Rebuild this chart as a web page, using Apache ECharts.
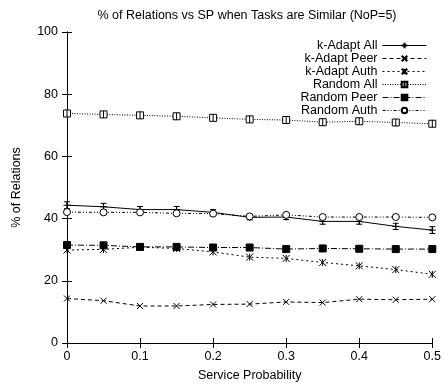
<!DOCTYPE html>
<html><head><meta charset="utf-8">
<script src="https://cdn.jsdelivr.net/npm/echarts@6/dist/echarts.min.js"></script>
<style>html,body{margin:0;padding:0;background:#fff}#c{width:444px;height:387px}</style>
</head><body><div id="c"></div>
<script>
const xValues = [0, 0.05, 0.1, 0.15, 0.2, 0.25, 0.3, 0.35, 0.4, 0.45, 0.5];
const kAdaptAll  = [44.3, 43.8, 42.9, 42.9, 42.0, 40.4, 40.5, 39.1, 39.1, 37.5, 36.3];
const kAdaptAllErr = [1.1, 1.1, 1.0, 1.0, 0.9, 0.8, 0.8, 0.9, 0.9, 1.0, 1.1];
const kAdaptPeer = [14.3, 13.6, 11.9, 11.9, 12.4, 12.5, 13.2, 13.0, 14.1, 13.9, 14.1];
const kAdaptAuth = [29.9, 30.1, 30.8, 30.4, 29.3, 27.6, 27.2, 25.9, 24.8, 23.6, 22.1];
const randomAll  = [73.8, 73.5, 73.2, 72.9, 72.4, 71.9, 71.7, 71.0, 71.3, 70.9, 70.5];
const randomPeer = [31.5, 31.4, 30.9, 30.9, 30.7, 30.7, 30.2, 30.4, 30.3, 30.2, 30.2];
const randomAuth = [42.1, 42.0, 42.0, 41.7, 41.6, 40.7, 41.2, 40.5, 40.5, 40.5, 40.4];
const yTicks = [0, 20, 40, 60, 80, 100];
const xTickLabels = ['0', '0.1', '0.2', '0.3', '0.4', '0.5'];

const FONT = 'Liberation Sans';
const FS = 12.5;
const pair = arr => arr.map((v, i) => [xValues[i], v]);

function lineSeries(name, data, dash, symbol, size, fill) {
  return {
    name, type: 'line', data: pair(data), symbol, symbolSize: size,
    showSymbol: true, animation: false,
    lineStyle: { color: '#000', width: 1, type: dash },
    itemStyle: { color: fill, borderColor: '#000', borderWidth: 1 },
    emphasis: { disabled: true }
  };
}

const chart = echarts.init(document.getElementById('c'));
chart.setOption({
  animation: false,
  title: {
    text: '% of Relations vs SP when Tasks are Similar (NoP=5)',
    left: 242, top: 4, textAlign: 'center',
    textStyle: { fontSize: FS, fontWeight: 'normal', color: '#000', fontFamily: FONT }
  },
  grid: { left: 67, right: 9, top: 32, bottom: 43 },
  legend: {
    orient: 'vertical', right: 12, top: 34, align: 'right',
    itemWidth: 44, itemHeight: 7, itemGap: 0,
    lineStyle: { width: 1 },
    textStyle: { fontSize: FS, color: '#000', fontFamily: FONT, lineHeight: 12 },
    data: ['k-Adapt All', 'k-Adapt Peer', 'k-Adapt Auth', 'Random All', 'Random Peer', 'Random Auth']
  },
  xAxis: [{
    type: 'value', min: 0, max: 0.5, interval: 0.1,
    name: 'Service Probability', nameLocation: 'middle', nameGap: 26,
    nameTextStyle: { fontSize: FS, color: '#000', fontFamily: FONT },
    axisLine: { lineStyle: { color: '#000', width: 1 } },
    axisTick: { inside: true, length: 5, lineStyle: { color: '#000' } },
    axisLabel: { fontSize: FS, color: '#000', fontFamily: FONT, margin: 7,
      formatter: v => xTickLabels[Math.round(v * 10)] },
    splitLine: { show: false }
  }, {
    type: 'value', min: 0, max: 0.5, interval: 0.1, position: 'top',
    axisLine: { show: true, lineStyle: { color: '#000', width: 1 } },
    axisTick: { inside: true, length: 5, lineStyle: { color: '#000' } },
    axisLabel: { show: false }, splitLine: { show: false }
  }],
  yAxis: [{
    type: 'value', min: 0, max: 100, interval: 20,
    name: '% of Relations', nameLocation: 'middle', nameGap: 44,
    nameTextStyle: { fontSize: FS, color: '#000', fontFamily: FONT },
    axisLine: { show: true, lineStyle: { color: '#000', width: 1 } },
    axisTick: { show: true, inside: true, length: 5, lineStyle: { color: '#000' } },
    axisLabel: { fontSize: FS, color: '#000', fontFamily: FONT, margin: 9,
      formatter: v => yTicks.includes(v) ? String(v) : '' },
    splitLine: { show: false }
  }, {
    type: 'value', min: 0, max: 100, interval: 20, position: 'right',
    axisLine: { show: true, lineStyle: { color: '#000', width: 1 } },
    axisTick: { show: true, inside: true, length: 5, lineStyle: { color: '#000' } },
    axisLabel: { show: false }, splitLine: { show: false }
  }],
  series: [
    lineSeries('k-Adapt All', kAdaptAll, 'solid', 'path://M0,5L10,5M5,0L5,10', 7, 'none'),
    lineSeries('k-Adapt Peer', kAdaptPeer, [4, 3], 'path://M0,0L10,10M10,0L0,10', 6, 'none'),
    lineSeries('k-Adapt Auth', kAdaptAuth, [2, 3], 'path://M0,0L10,10M10,0L0,10M5,0L5,10', 7, 'none'),
    lineSeries('Random All', randomAll, [1, 1.5], 'path://M0,0L10,0L10,10L0,10ZM5,0L5,10', 7, '#fff'),
    lineSeries('Random Peer', randomPeer, [6, 2, 1, 2], 'rect', 7, '#000'),
    lineSeries('Random Auth', randomAuth, [3, 2, 1, 2, 1, 2], 'path://M10,5A5,5,0,1,1,0,5A5,5,0,1,1,10,5Z', 7, '#fff'),
    {
      name: 'k-Adapt All err', type: 'custom', animation: false, silent: true,
      data: xValues.map((x, i) => [x, kAdaptAll[i] - kAdaptAllErr[i], kAdaptAll[i] + kAdaptAllErr[i]]),
      renderItem: (params, api) => {
        const lo = api.coord([api.value(0), api.value(1)]);
        const hi = api.coord([api.value(0), api.value(2)]);
        const w = 3;
        const st = { stroke: '#000', lineWidth: 1 };
        return { type: 'group', children: [
          { type: 'line', shape: { x1: lo[0], y1: lo[1], x2: hi[0], y2: hi[1] }, style: st },
          { type: 'line', shape: { x1: lo[0] - w, y1: lo[1], x2: lo[0] + w, y2: lo[1] }, style: st },
          { type: 'line', shape: { x1: hi[0] - w, y1: hi[1], x2: hi[0] + w, y2: hi[1] }, style: st }
        ]};
      },
      encode: { x: 0, y: [1, 2] }, z: 3
    }
  ]
});
</script></body></html>
